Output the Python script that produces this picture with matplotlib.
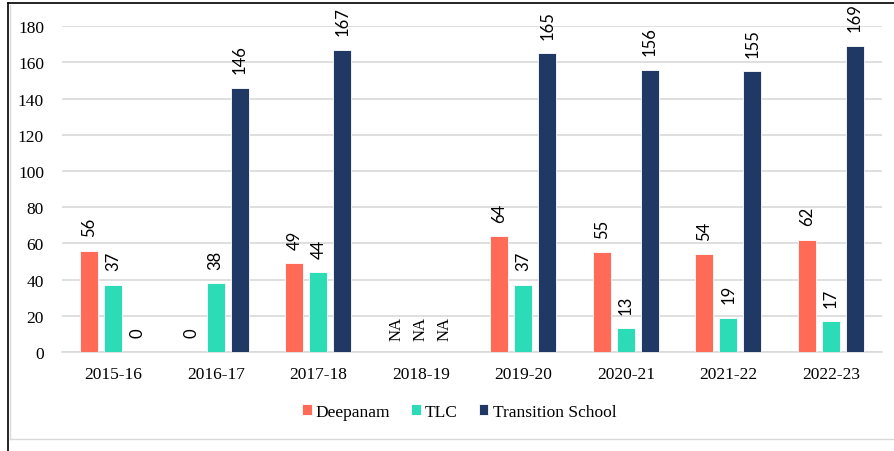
import matplotlib.pyplot as plt
from matplotlib.lines import Line2D
import numpy as np

years = ['2015-16', '2016-17', '2017-18', '2018-19', '2019-20', '2020-21', '2021-22', '2022-23']
deepanam = [56, 0, 49, None, 64, 55, 54, 62]
tlc = [37, 38, 44, None, 37, 13, 19, 17]
transition = [0, 146, 167, None, 165, 156, 155, 169]

series = [('Deepanam', deepanam, '#FF6B57'),
          ('TLC', tlc, '#2CDCB6'),
          ('Transition School', transition, '#1F3864')]

serif = 'Liberation Serif'
sans = 'Lato'

fig = plt.figure(figsize=(8.95, 4.52), dpi=100)
ax = fig.add_axes([0.0693, 0.219, 0.9162, 0.721])

x = np.arange(len(years))
width = 0.176
step = 0.234

for i, (name, vals, color) in enumerate(series):
    pos = x + (i - 1) * step
    heights = [v if v is not None else 0 for v in vals]
    ax.bar(pos, heights, width, color=color, edgecolor='white', linewidth=0.6,
           label=name, zorder=3)
    for p, v in zip(pos, vals):
        if v is None:
            ax.annotate('NA', (p, 0), xytext=(0, 9), textcoords='offset points',
                        rotation=90, ha='center', va='bottom', fontsize=12, family=serif)
        else:
            ax.annotate(str(v), (p, v), xytext=(0, 10.5), textcoords='offset points',
                        rotation=90, ha='center', va='bottom', fontsize=12, family=sans)

ax.set_xlim(-0.5, len(years) - 0.5)
ax.set_ylim(0, 180)
ax.set_yticks(range(0, 181, 20))
ax.set_xticks(x)
ax.set_xticklabels(years)
ax.grid(axis='y', color='#D9D9D9', linewidth=1.2, zorder=0)
for s in ['top', 'right', 'left']:
    ax.spines[s].set_visible(False)
ax.spines['bottom'].set_color('#D9D9D9')
ax.spines['bottom'].set_linewidth(1.2)
ax.tick_params(axis='both', length=0, labelsize=12.5)
ax.tick_params(axis='x', pad=10)
ax.tick_params(axis='y', pad=13)
for lbl in ax.get_xticklabels() + ax.get_yticklabels():
    lbl.set_family(serif)

leg = fig.legend(loc='center', bbox_to_anchor=(0.513, 0.087), ncol=3, frameon=False,
                 prop={'family': serif, 'size': 12.5}, handlelength=0.55, handleheight=0.55,
                 handletextpad=0.25, columnspacing=1.2)

# chart frame
W, H = 895, 452
fig.add_artist(Line2D([8 / W, 1], [1 - 4 / H, 1 - 4 / H], color='black', linewidth=1.2,
                      transform=fig.transFigure))
fig.add_artist(Line2D([8 / W, 8 / W], [0, 1 - 4 / H], color='black', linewidth=1.2,
                      transform=fig.transFigure))
fig.add_artist(Line2D([10 / W, 10 / W], [12 / H, 1 - 6 / H], color='#D9D9D9', linewidth=1,
                      transform=fig.transFigure))
fig.add_artist(Line2D([10 / W, 1], [12 / H, 12 / H], color='#D9D9D9', linewidth=1,
                      transform=fig.transFigure))

fig.savefig('out.png', dpi=100)
